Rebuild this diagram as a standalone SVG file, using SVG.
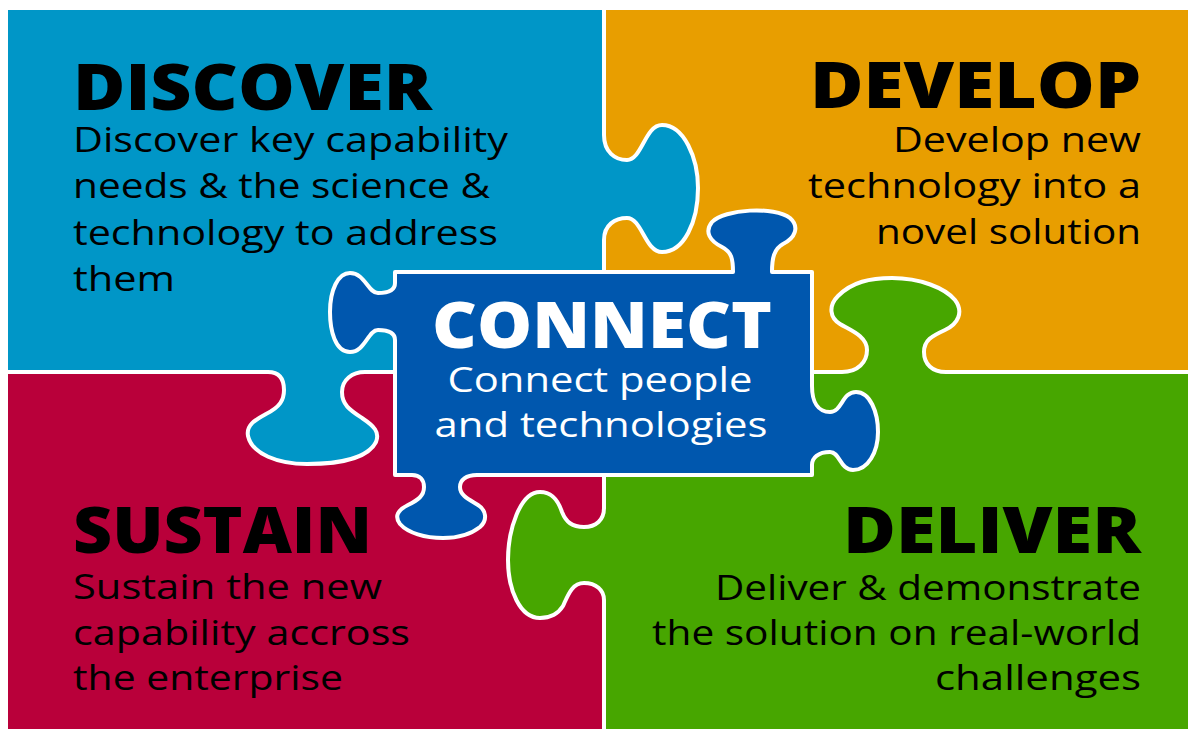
<svg xmlns="http://www.w3.org/2000/svg" width="1188" height="729" viewBox="0 0 1188 729">
<style>
.pc{stroke:#fff;stroke-width:4;stroke-linejoin:round}
.h{font-family:"Open Sans","Liberation Sans",sans-serif;font-weight:800;font-size:63px;fill:#000}
.b{font-family:"Open Sans","Liberation Sans",sans-serif;font-weight:400;font-size:35px;fill:#000}
.w{fill:#fff}
.e{text-anchor:end}
.m{text-anchor:middle}
</style>
<rect width="1188" height="729" fill="#fff"/>
<g id="develop">
<path class="pc" fill="#E89E00" d="M604,8 H1192 V372 H604 Z"/>
<text class="h e" x="1141" y="108" textLength="331" lengthAdjust="spacingAndGlyphs">DEVELOP</text>
<text class="b e" x="1141" y="152" textLength="248" lengthAdjust="spacingAndGlyphs">Develop new</text>
<text class="b e" x="1141" y="198" textLength="333" lengthAdjust="spacingAndGlyphs">technology into a</text>
<text class="b e" x="1141" y="244" textLength="265" lengthAdjust="spacingAndGlyphs">novel solution</text>
</g>
<g id="sustain">
<path class="pc" fill="#B9003A" d="M6,372 H604 V733 H6 Z"/>
<text class="h" x="73" y="553" textLength="299" lengthAdjust="spacingAndGlyphs">SUSTAIN</text>
<text class="b" x="73" y="599" textLength="309" lengthAdjust="spacingAndGlyphs">Sustain the new</text>
<text class="b" x="73" y="645" textLength="337" lengthAdjust="spacingAndGlyphs">capability accross</text>
<text class="b" x="73" y="690" textLength="270" lengthAdjust="spacingAndGlyphs">the enterprise</text>
</g>
<g id="discover">
<path class="pc" fill="#0096C7" d="M6,8 H604 V135 C604,152 615,160 627,160 C642,160 645,125 662,125 C684,125 698,158 698,188 C698,222 684,252 662,252 C645,252 642,218 627,218 C615,218 604,225 604,240 V372 H365 C352,372 342,380 342,392 C342,405 350,410 362,418 C374,426 380,432 376,442 C368,458 340,464 307,464 C278,464 252,454 248,436 C246,425 255,420 266,414 C280,407 284,400 284,390 C284,380 280,372 268,372 H6 Z"/>
<text class="h" x="73" y="110" textLength="359" lengthAdjust="spacingAndGlyphs">DISCOVER</text>
<text class="b" x="73" y="152" textLength="435" lengthAdjust="spacingAndGlyphs">Discover key capability</text>
<text class="b" x="73" y="198" textLength="417" lengthAdjust="spacingAndGlyphs">needs &amp; the science &amp;</text>
<text class="b" x="73" y="245" textLength="425" lengthAdjust="spacingAndGlyphs">technology to address</text>
<text class="b" x="73" y="291" textLength="102" lengthAdjust="spacingAndGlyphs">them</text>
</g>
<g id="deliver">
<path class="pc" fill="#47A600" d="M604,372 H842 C858,372 867,362 867,350 C867,336 850,330 840,324 C830,318 828,306 838,296 C852,282 870,278 892,278 C920,278 945,288 955,300 C964,312 958,324 945,330 C932,336 924,340 924,352 C924,364 932,372 946,372 H1192 V733 H604 V600 C604,590 596,583 584,583 C572,583 568,595 563,606 C558,614 550,618 540,618 C520,618 508,590 508,560 C508,530 520,492 540,492 C552,492 558,500 562,512 C566,522 572,527 584,527 C596,527 604,520 604,508 Z"/>
<text class="h e" x="1141" y="553" textLength="298" lengthAdjust="spacingAndGlyphs">DELIVER</text>
<text class="b e" x="1141" y="600" textLength="426" lengthAdjust="spacingAndGlyphs">Deliver &amp; demonstrate</text>
<text class="b e" x="1141" y="645" textLength="489" lengthAdjust="spacingAndGlyphs">the solution on real-world</text>
<text class="b e" x="1141" y="690" textLength="206" lengthAdjust="spacingAndGlyphs">challenges</text>
</g>
<g id="connect">
<path class="pc" fill="#0057AE" d="M395,272 H733 C733,260 732,252 722,247 C710,241 704,232 712,222 C724,209 775,206 790,218 C800,227 795,238 783,244 C774,249 772,258 772,272 H812 V386 C812,402 818,412 830,412 C842,412 842,392 856,392 C870,392 878,412 878,432 C878,452 868,470 853,470 C840,470 840,452 830,452 C818,452 812,458 812,465 V475 H477 C466,475 460,480 460,487 C460,496 470,500 478,505 C486,510 488,520 480,527 C470,535 455,538 443,538 C425,538 408,533 400,524 C394,516 398,510 408,505 C418,500 424,496 424,487 C424,480 420,475 412,475 H395 V340 C395,332 388,330 378,330 C368,330 365,352 350,352 C335,352 330,330 330,312 C330,290 338,273 350,273 C365,273 368,293 378,293 C388,293 395,290 395,283 Z"/>
<text class="h w m" x="602" y="348" font-size="60" textLength="340" lengthAdjust="spacingAndGlyphs">CONNECT</text>
<text class="b w m" x="600" y="392" textLength="305" lengthAdjust="spacingAndGlyphs">Connect people</text>
<text class="b w m" x="601" y="437" textLength="333" lengthAdjust="spacingAndGlyphs">and technologies</text>
</g>
</svg>
